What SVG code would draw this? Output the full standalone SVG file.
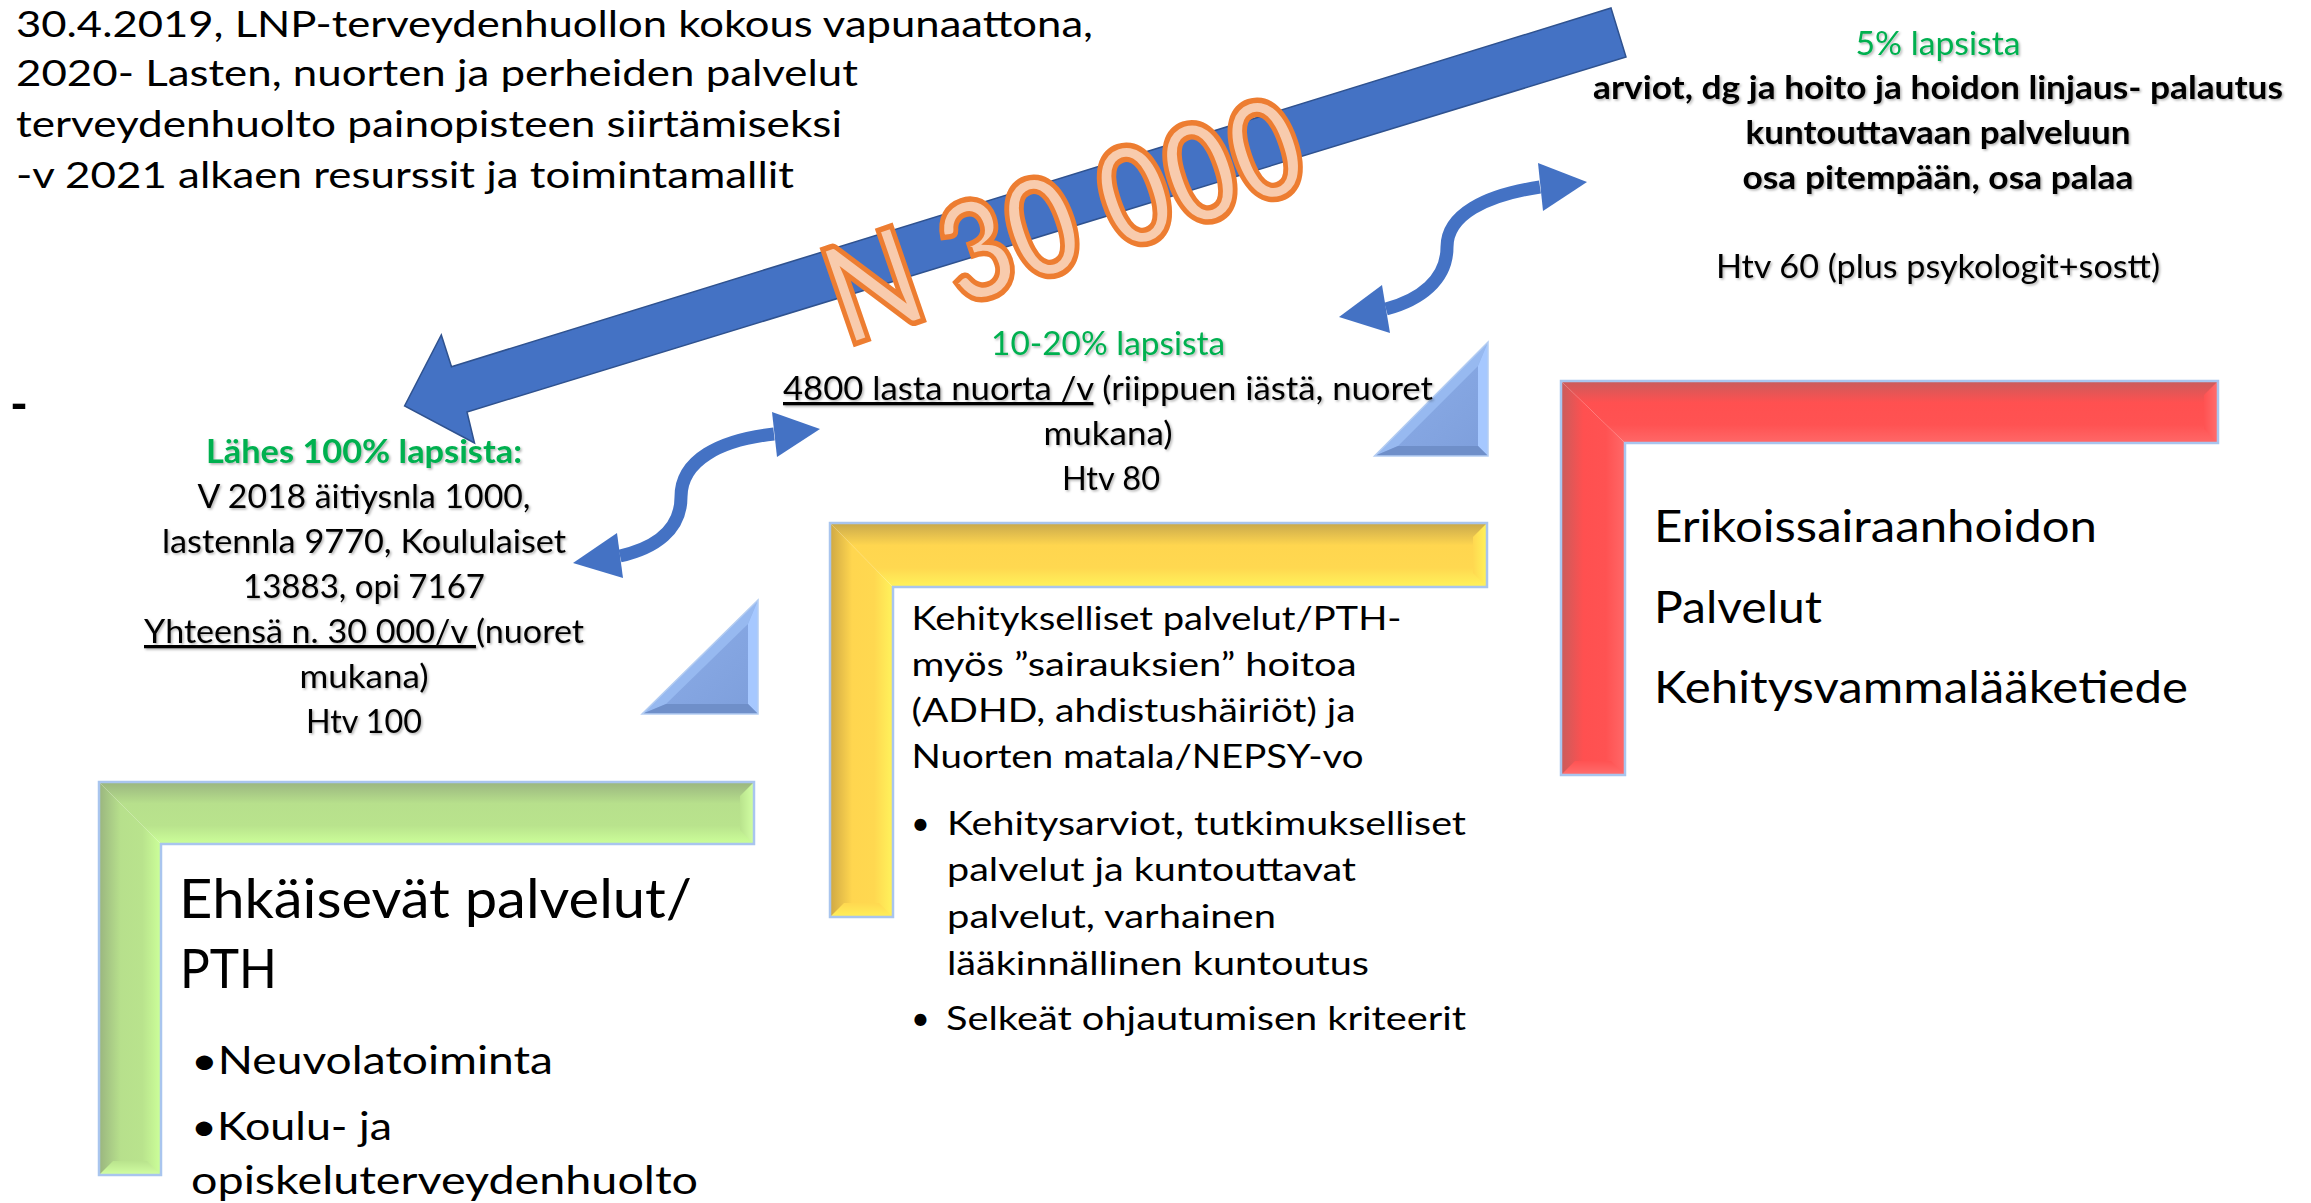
<svg xmlns="http://www.w3.org/2000/svg" width="2311" height="1203" viewBox="0 0 2311 1203">
<style>
  text { font-family: "Lato", "Open Sans", "Liberation Sans", sans-serif; fill: #000; }
  .title { font-size: 37px; font-weight: 400; }
  .mid { font-size: 32.5px; text-anchor: middle; }
  .bold { font-weight: 700; }
  .green { fill: #00b050; }
  .box { font-size: 32.5px; }
  .big { font-size: 54px; }
  .med { font-size: 39px; }
  .red { font-size: 44px; }
  .ul { text-decoration: underline; }
  .lshape { fill: none; stroke: #a9c5ee; stroke-width: 2.5; }
  .curve { fill: none; stroke: #4472c4; stroke-width: 13; }
  .head { fill: #4472c4; }
</style>
<defs>
  <filter id="sh" x="-5%" y="-30%" width="110%" height="160%">
    <feDropShadow dx="1.5" dy="1.5" stdDeviation="1" flood-color="#000" flood-opacity="0.3"/>
  </filter>
  <linearGradient id="gH" x1="0" y1="0" x2="0" y2="1"><stop offset="0" stop-color="#9ab57f"/><stop offset="0.35" stop-color="#b7e08c"/><stop offset="0.7" stop-color="#b9e38d"/><stop offset="1" stop-color="#ccff99"/></linearGradient>
  <linearGradient id="gV" x1="0" y1="0" x2="1" y2="0"><stop offset="0" stop-color="#9ab57f"/><stop offset="0.35" stop-color="#b7e08c"/><stop offset="0.7" stop-color="#b9e38d"/><stop offset="1" stop-color="#ccff99"/></linearGradient>
  <linearGradient id="gE" x1="0" y1="0" x2="1" y2="0"><stop offset="0" stop-color="#b9e38d"/><stop offset="1" stop-color="#d2ffa3"/></linearGradient>
  <linearGradient id="gF" x1="0" y1="0" x2="0" y2="1"><stop offset="0" stop-color="#b9e38d"/><stop offset="1" stop-color="#d2ffa3"/></linearGradient>
  <linearGradient id="yH" x1="0" y1="0" x2="0" y2="1"><stop offset="0" stop-color="#c8a84c"/><stop offset="0.35" stop-color="#ffd64f"/><stop offset="0.7" stop-color="#ffd850"/><stop offset="1" stop-color="#fff35c"/></linearGradient>
  <linearGradient id="yV" x1="0" y1="0" x2="1" y2="0"><stop offset="0" stop-color="#cfa844"/><stop offset="0.35" stop-color="#ffd64f"/><stop offset="0.7" stop-color="#ffd850"/><stop offset="1" stop-color="#fff35c"/></linearGradient>
  <linearGradient id="yE" x1="0" y1="0" x2="1" y2="0"><stop offset="0" stop-color="#ffd850"/><stop offset="1" stop-color="#fff35c"/></linearGradient>
  <linearGradient id="yF" x1="0" y1="0" x2="0" y2="1"><stop offset="0" stop-color="#ffd850"/><stop offset="1" stop-color="#fff05a"/></linearGradient>
  <linearGradient id="rH" x1="0" y1="0" x2="0" y2="1"><stop offset="0" stop-color="#c95c5c"/><stop offset="0.35" stop-color="#ff5050"/><stop offset="0.7" stop-color="#ff5252"/><stop offset="1" stop-color="#ff6868"/></linearGradient>
  <linearGradient id="rV" x1="0" y1="0" x2="1" y2="0"><stop offset="0" stop-color="#c95c5c"/><stop offset="0.35" stop-color="#ff5050"/><stop offset="0.7" stop-color="#ff5252"/><stop offset="1" stop-color="#ff6868"/></linearGradient>
  <linearGradient id="rE" x1="0" y1="0" x2="1" y2="0"><stop offset="0" stop-color="#ff5252"/><stop offset="1" stop-color="#ff6e6e"/></linearGradient>
  <linearGradient id="rF" x1="0" y1="0" x2="0" y2="1"><stop offset="0" stop-color="#ff5252"/><stop offset="1" stop-color="#ff6e6e"/></linearGradient>
  <linearGradient id="tB" x1="0" y1="0" x2="1" y2="1"><stop offset="0" stop-color="#8fb0ea"/><stop offset="1" stop-color="#7d9edb"/></linearGradient>
</defs>

<g id="title">
  <text class="title" x="16" y="37" textLength="1077" lengthAdjust="spacingAndGlyphs">30.4.2019, LNP-terveydenhuollon kokous vapunaattona,</text>
  <text class="title" x="16" y="86" textLength="842" lengthAdjust="spacingAndGlyphs">2020- Lasten, nuorten ja perheiden palvelut</text>
  <text class="title" x="16" y="137" textLength="826" lengthAdjust="spacingAndGlyphs">terveydenhuolto painopisteen siirtämiseksi</text>
  <text class="title" x="16" y="188" textLength="778" lengthAdjust="spacingAndGlyphs">-v 2021 alkaen resurssit ja toimintamallit</text>
</g>
<g id="dash">
  <text class="bold" x="10" y="422" font-size="52" textLength="18" lengthAdjust="spacingAndGlyphs">-</text>
</g>

<g id="connectors">
  <polygon id="big-arrow" points="1611,8 1626,57 467,412 474.5,443 404.6,406 441.3,335 451.5,366.7" fill="#4472c4" stroke="#2f528f" stroke-width="1.5"/>
  <g id="curve-left">
    <path class="curve" d="M 620 556 C 655 548, 681 530, 681 497 C 681 460, 720 440, 774 434"/>
    <polygon class="head" points="573,563 617,533 623,578"/>
    <polygon class="head" points="820,429 772,412 777,457"/>
  </g>
  <g id="curve-right">
    <path class="curve" d="M 1386 309 C 1420 300, 1447 280, 1447 247 C 1447 215, 1485 195, 1540 187"/>
    <polygon class="head" points="1339,317 1382,285 1390,333"/>
    <polygon class="head" points="1587,182 1538,163 1543,211"/>
  </g>
</g>

<g id="label-n30000">
  <text x="846" y="347" transform="rotate(-19 846 347)" font-size="138" font-weight="700" stroke="#ed7d31" stroke-width="5.5" textLength="495" lengthAdjust="spacingAndGlyphs" style="fill:#f8cbad">N 30 000</text>
</g>

<g id="triangle-1">
  <polygon points="642,714 758,600 758,714" fill="url(#tB)"/>
  <polygon points="642,714 758,600 748,624 666,704" fill="#97b9f0"/>
  <polygon points="758,600 758,714 748,704 748,624" fill="#a6c8ff"/>
  <polygon points="758,714 642,714 666,704 748,704" fill="#6f8fc9"/>
  <polygon points="642,714 758,600 758,714" fill="none" stroke="#b4cdf2" stroke-width="1.5"/>
</g>
<g id="triangle-2">
  <polygon points="1374.5,456 1488,342 1488,456" fill="url(#tB)"/>
  <polygon points="1374.5,456 1488,342 1478,366 1398,446" fill="#97b9f0"/>
  <polygon points="1488,342 1488,456 1478,446 1478,366" fill="#a6c8ff"/>
  <polygon points="1488,456 1374.5,456 1398,446 1478,446" fill="#6f8fc9"/>
  <polygon points="1374.5,456 1488,342 1488,456" fill="none" stroke="#b4cdf2" stroke-width="1.5"/>
</g>

<g id="node-green">
  <polygon points="99,782 754,782 754,844 161,844" fill="url(#gH)"/>
  <polygon points="99,782 161,844 161,1175 99,1175" fill="url(#gV)"/>
  <polygon points="754,782 754,844 740,830 740,796" fill="url(#gE)"/>
  <polygon points="99,1175 161,1175 147,1161 113,1161" fill="url(#gF)"/>
  <polygon class="lshape" points="99,782 754,782 754,844 161,844 161,1175 99,1175"/>
  <text class="big" x="179" y="918" textLength="513" lengthAdjust="spacingAndGlyphs">Ehkäisevät palvelut/</text>
  <text class="big" x="180" y="988" textLength="97" lengthAdjust="spacingAndGlyphs">PTH</text>
  <text class="med" x="191" y="1074" textLength="362" lengthAdjust="spacingAndGlyphs">•Neuvolatoiminta</text>
  <text class="med" x="191" y="1140" textLength="201" lengthAdjust="spacingAndGlyphs">•Koulu- ja</text>
  <text class="med" x="191" y="1194" textLength="507" lengthAdjust="spacingAndGlyphs">opiskeluterveydenhuolto</text>
</g>

<g id="node-yellow">
  <polygon points="830,523 1487,523 1487,587 893,587" fill="url(#yH)"/>
  <polygon points="830,523 893,587 893,917 830,917" fill="url(#yV)"/>
  <polygon points="1487,523 1487,587 1473,573 1473,537" fill="url(#yE)"/>
  <polygon points="830,917 893,917 879,903 844,903" fill="url(#yF)"/>
  <polygon class="lshape" points="830,523 1487,523 1487,587 893,587 893,917 830,917"/>
  <text class="box" x="911.5" y="630" textLength="490" lengthAdjust="spacingAndGlyphs">Kehitykselliset palvelut/PTH-</text>
  <text class="box" x="911.5" y="676" textLength="445" lengthAdjust="spacingAndGlyphs">myös ”sairauksien” hoitoa</text>
  <text class="box" x="911.5" y="722" textLength="444" lengthAdjust="spacingAndGlyphs">(ADHD, ahdistushäiriöt) ja</text>
  <text class="box" x="911.5" y="768" textLength="452" lengthAdjust="spacingAndGlyphs">Nuorten matala/NEPSY-vo</text>
  <text class="box" x="911" y="835">•</text>
  <text class="box" x="947" y="835" textLength="519" lengthAdjust="spacingAndGlyphs">Kehitysarviot, tutkimukselliset</text>
  <text class="box" x="947" y="881" textLength="409" lengthAdjust="spacingAndGlyphs">palvelut ja kuntouttavat</text>
  <text class="box" x="947" y="928" textLength="329" lengthAdjust="spacingAndGlyphs">palvelut, varhainen</text>
  <text class="box" x="947" y="975" textLength="422" lengthAdjust="spacingAndGlyphs">lääkinnällinen kuntoutus</text>
  <text class="box" x="911" y="1030">•</text>
  <text class="box" x="946" y="1030" textLength="520" lengthAdjust="spacingAndGlyphs">Selkeät ohjautumisen kriteerit</text>
</g>

<g id="node-red">
  <polygon points="1561,381 2218,381 2218,443 1625,443" fill="url(#rH)"/>
  <polygon points="1561,381 1625,443 1625,775 1561,775" fill="url(#rV)"/>
  <polygon points="2218,381 2218,443 2204,429 2204,395" fill="url(#rE)"/>
  <polygon points="1561,775 1625,775 1611,761 1575,761" fill="url(#rF)"/>
  <polygon class="lshape" points="1561,381 2218,381 2218,443 1625,443 1625,775 1561,775"/>
  <text class="red" x="1654" y="542" textLength="443" lengthAdjust="spacingAndGlyphs">Erikoissairaanhoidon</text>
  <text class="red" x="1654" y="623" textLength="168" lengthAdjust="spacingAndGlyphs">Palvelut</text>
  <text class="red" x="1654" y="703" textLength="534" lengthAdjust="spacingAndGlyphs">Kehitysvammalääketiede</text>
</g>

<g id="node-left-text" filter="url(#sh)">
  <text class="mid bold green" x="364" y="463" textLength="316" lengthAdjust="spacingAndGlyphs">Lähes 100% lapsista:</text>
  <text class="mid" x="364" y="508" textLength="333" lengthAdjust="spacingAndGlyphs">V 2018 äitiysnla 1000,</text>
  <text class="mid" x="364" y="553" textLength="404" lengthAdjust="spacingAndGlyphs">lastennla 9770, Koululaiset</text>
  <text class="mid" x="364" y="598" textLength="242" lengthAdjust="spacingAndGlyphs">13883, opi 7167</text>
  <text class="mid" x="364" y="643" textLength="440" lengthAdjust="spacingAndGlyphs"><tspan class="ul">Yhteensä n. 30 000/v </tspan>(nuoret</text>
  <text class="mid" x="364" y="688" textLength="129" lengthAdjust="spacingAndGlyphs">mukana)</text>
  <text class="mid" x="364" y="733" textLength="116" lengthAdjust="spacingAndGlyphs">Htv 100</text>
</g>

<g id="node-mid-text" filter="url(#sh)">
  <text class="mid green" x="1108" y="355" textLength="234" lengthAdjust="spacingAndGlyphs">10-20% lapsista</text>
  <text class="mid" x="1108" y="400" textLength="650" lengthAdjust="spacingAndGlyphs"><tspan class="ul">4800 lasta nuorta /v</tspan> (riippuen iästä, nuoret</text>
  <text class="mid" x="1108" y="445" textLength="129" lengthAdjust="spacingAndGlyphs">mukana)</text>
  <text class="mid" x="1111" y="490" textLength="98" lengthAdjust="spacingAndGlyphs">Htv 80</text>
</g>

<g id="node-right-text" filter="url(#sh)">
  <text class="mid green" x="1938" y="55" textLength="165" lengthAdjust="spacingAndGlyphs">5% lapsista</text>
  <text class="mid bold" x="1938" y="99" textLength="690" lengthAdjust="spacingAndGlyphs">arviot, dg ja hoito ja hoidon linjaus- palautus</text>
  <text class="mid bold" x="1938" y="144" textLength="385" lengthAdjust="spacingAndGlyphs">kuntouttavaan palveluun</text>
  <text class="mid bold" x="1938" y="189" textLength="391" lengthAdjust="spacingAndGlyphs">osa pitempään, osa palaa</text>
  <text class="mid" x="1938" y="278" textLength="444" lengthAdjust="spacingAndGlyphs">Htv 60 (plus psykologit+sostt)</text>
</g>
</svg>
